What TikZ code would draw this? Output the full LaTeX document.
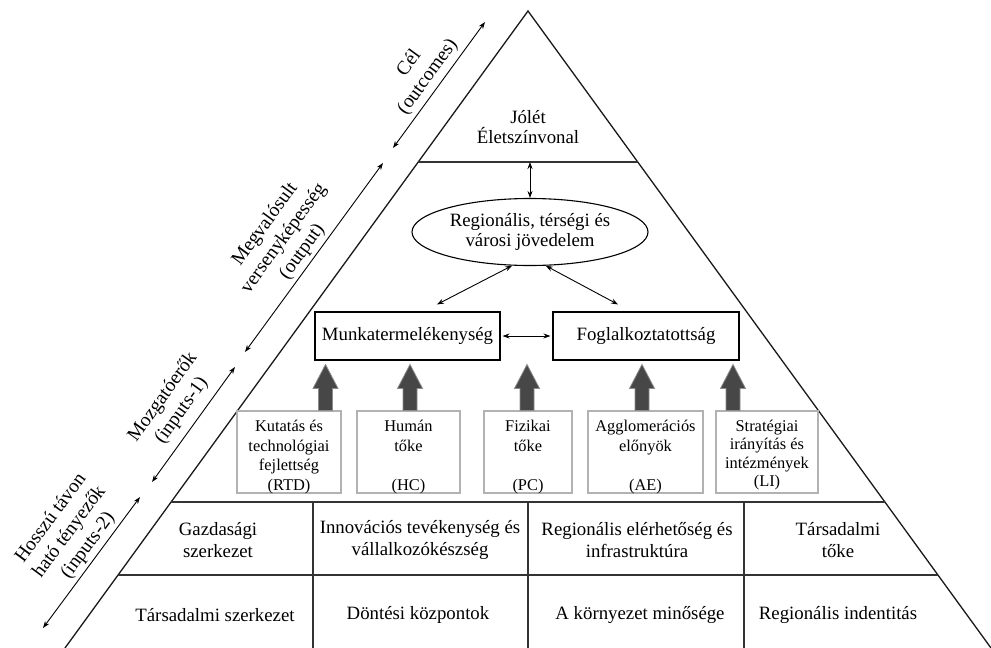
\documentclass[tikz,border=0pt]{standalone}
\usepackage{fontspec}
\setmainfont{Liberation Serif}
\usetikzlibrary{arrows.meta,calc,shapes.geometric}
\newcommand\blockarrow[1]{\filldraw[barrow] (#1) ++(-7,0) -- ++(0,-22) -- ++(-5.5,0) -- ++(12.5,-24) -- ++(12.5,24) -- ++(-5.5,0) -- ++(0,22) -- cycle;}
\tikzset{
 side/.style={line width=1.3pt, draw=black!90},
 divider/.style={line width=1.7pt, draw=black!80},
 mainfont/.style={font=\fontsize{18.8}{20}\selectfont},
 bigbox/.style={draw, line width=1.1pt, minimum width=185pt, minimum height=48pt, inner sep=0pt, mainfont},
 smallbox/.style={draw=black!30, line width=1.1pt, minimum height=82pt, inner sep=0pt},
 boxtext/.style={align=center, font=\fontsize{16.4}{19.6}\selectfont, yshift=-5pt},
 cell/.style={align=center, font=\fontsize{18.8}{22}\selectfont},
 dbl/.style={{Stealth[length=7pt,width=5pt]}-{Stealth[length=7pt,width=5pt]}, line width=0.9pt},
 sidelabel/.style={sloped, align=center, font=\fontsize{19.5}{23}\selectfont},
 barrow/.style={fill=black!72, draw=black!45, line width=0.8pt},
}
\begin{document}
\begin{tikzpicture}[x=1pt,y=-1pt]
\useasboundingbox (0,0) rectangle (991,648);
% triangle
\coordinate (T) at (528,11);
\coordinate (BL) at (65,648);
\coordinate (BR) at (991,648);
\draw[side] (BL) -- (T) -- (BR);
\coordinate (L1) at ($(T)!0.2370!(BL)$);
\coordinate (R1) at ($(T)!0.2370!(BR)$);
\coordinate (L2) at ($(T)!0.7708!(BL)$);
\coordinate (R2) at ($(T)!0.7708!(BR)$);
\coordinate (L3) at ($(T)!0.8854!(BL)$);
\coordinate (R3) at ($(T)!0.8854!(BR)$);
\draw[divider] (L1) -- (R1);
\draw[divider] (L2) -- (R2);
\draw[divider] (L3) -- (R3);
\coordinate (V1) at (313,648);
\coordinate (V2) at (528,648);
\coordinate (V3) at (744,648);
\draw[divider] (V1 |- L2) -- (V1);
\draw[divider] (V2 |- L2) -- (V2);
\draw[divider] (V3 |- L2) -- (V3);
% top
\node[mainfont, align=center] (jolet) at (528,127) {Jólét\\Életszínvonal};
\node[draw, ellipse, line width=1.1pt, minimum width=236pt, minimum height=67pt, inner sep=0pt, align=center, mainfont] (ell) at (530,232) {Regionális, térségi és\\városi jövedelem};
\coordinate (J) at (ell.north |- L1);
\draw[dbl] (J) -- (ell.north);
% big boxes
\node[bigbox] (munka) at (407.5,336) {Munkatermelékenység};
\node[bigbox, minimum width=186pt] (fogl) at (646,336) {Foglalkoztatottság};
\draw[dbl, shorten >=2pt, shorten <=2pt] (munka.east) -- (fogl.west);
\coordinate (me) at ($(munka.north)+(29.5,-7)$);
\coordinate (fe) at ($(fogl.north)+(-28,-7)$);
\draw[dbl] (ell.242) -- (me);
\draw[dbl] (ell.295) -- (fe);
% small boxes
\node[smallbox, minimum width=104pt, label={[boxtext]center:{Kutatás és\\technológiai\\fejlettség\\(RTD)}}] (s1) at (289,452) {};
\node[smallbox, minimum width=103pt, label={[boxtext]center:{Humán\\tőke\\~\\(HC)}}] (s2) at (408.5,452) {};
\node[smallbox, minimum width=88pt, label={[boxtext]center:{Fizikai\\tőke\\~\\(PC)}}] (s3) at (528,452) {};
\node[smallbox, minimum width=115pt, label={[boxtext]center:{Agglomerációs\\előnyök\\~\\(AE)}}] (s4) at (645.5,452) {};
\node[smallbox, minimum width=102pt, label={[boxtext, yshift=2pt, font=\fontsize{16.4}{18.6}\selectfont]center:{Stratégiai\\irányítás és\\intézmények\\(LI)}}] (s5) at (767,452) {};
\coordinate (ab1) at ($(s1.north)+(36.5,0)$);
\coordinate (ab2) at ($(s2.north)+(1.5,0)$);
\coordinate (ab3) at ($(s3.north)+(-1,0)$);
\coordinate (ab4) at ($(s4.north)+(-3.5,0)$);
\coordinate (ab5) at ($(s5.north)+(-34,0)$);
\blockarrow{ab1}
\blockarrow{ab2}
\blockarrow{ab3}
\blockarrow{ab4}
\blockarrow{ab5}
% bottom cells
\node[cell] (c11) at (218,540) {Gazdasági\\szerkezet};
\node[cell] (c12) at (420,540) {Innovációs tevékenység és\\vállalkozókészség};
\node[cell] (c13) at (637,540) {Regionális elérhetőség és\\infrastruktúra};
\node[cell] (c14) at (838,540) {Társadalmi\\tőke};
\node[cell] (c21) at (215,615) {Társadalmi szerkezet};
\node[cell] (c22) at (418,615) {Döntési központok};
\node[cell] (c23) at (640,615) {A környezet minősége};
\node[cell] (c24) at (838,615) {Regionális indentitás};
% side arrows
\coordinate (a1s) at (393,148); \coordinate (a1e) at (485,22);
\coordinate (a2s) at (245,352); \coordinate (a2e) at (383,163);
\coordinate (a3s) at (152,482); \coordinate (a3e) at (235,367);
\coordinate (a4s) at (43,628);  \coordinate (a4e) at (140,497);
\draw[dbl] (a1s) -- (a1e) node[sidelabel, pos=0.5, above=1pt] {Cél\\(outcomes)};
\draw[dbl] (a2s) -- (a2e) node[sidelabel, pos=0.49, above=0pt] {Megvalósult\\versenyképesség\\(output)};
\draw[dbl] (a3s) -- (a3e) node[sidelabel, pos=0.53, above=5pt] {Mozgatóerők\\(inputs-1)};
\draw[dbl] (a4s) -- (a4e) node[sidelabel, pos=0.57, above=0pt] {Hosszú távon\\ható tényezők\\(inputs-2)};
\end{tikzpicture}
\end{document}
